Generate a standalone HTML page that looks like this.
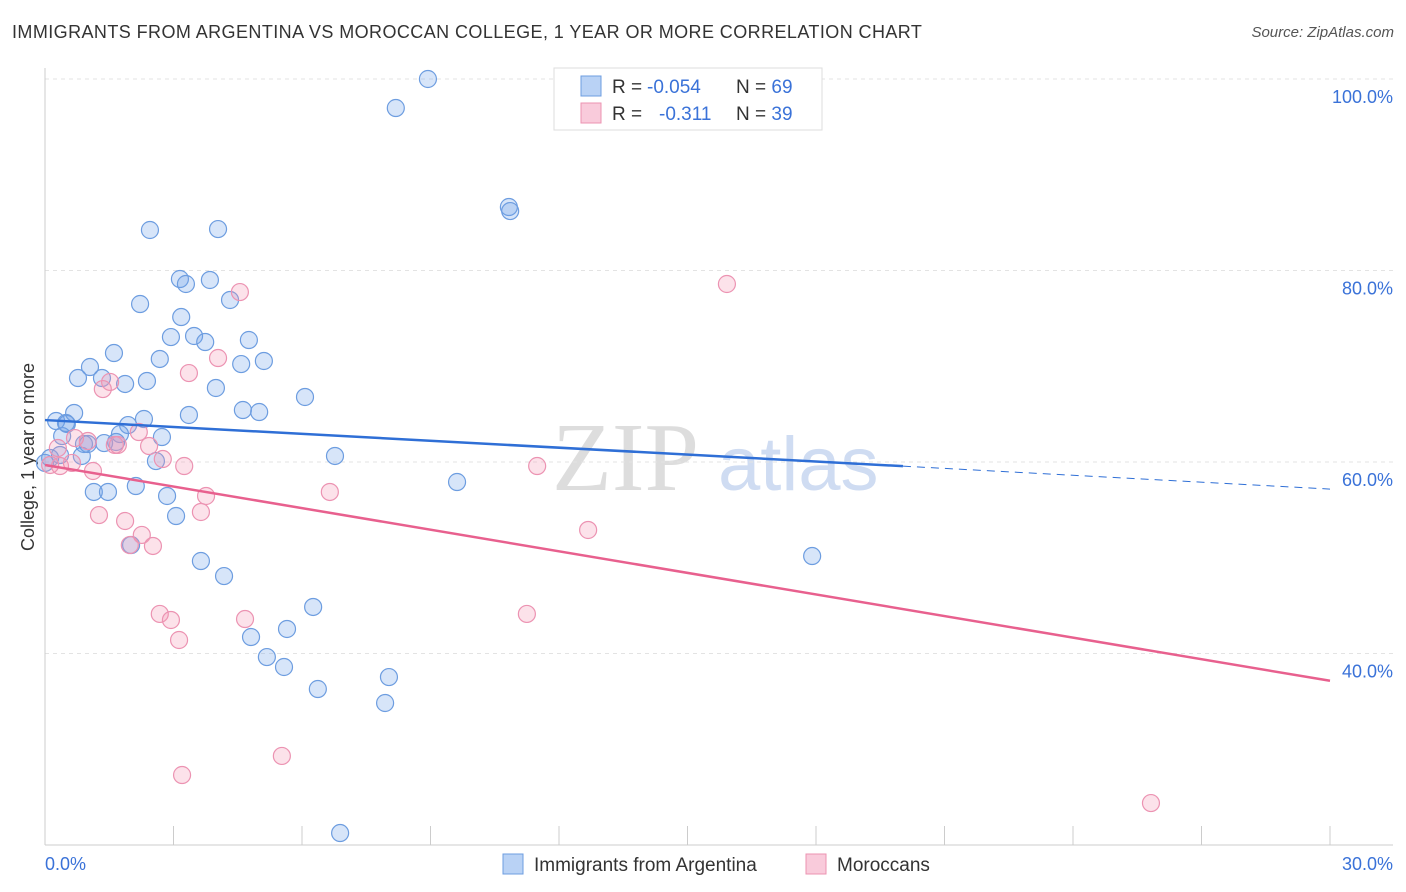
<!DOCTYPE html>
<html><head><meta charset="utf-8"><style>
body{margin:0;background:#fff;font-family:"Liberation Sans",sans-serif;}
#wrap{position:relative;width:1406px;height:892px;overflow:hidden}
.t{position:absolute;white-space:nowrap}
</style></head><body>
<div id="wrap">
<div class="t" style="left:12px;top:22px;font-size:18px;letter-spacing:0.42px;color:#333">IMMIGRANTS FROM ARGENTINA VS MOROCCAN COLLEGE, 1 YEAR OR MORE CORRELATION CHART</div>
<div class="t" style="right:12px;top:24px;font-size:15px;color:#555;font-style:italic">Source: ZipAtlas.com</div>
<svg id="svg" width="1406" height="892" style="position:absolute;left:0;top:0"></svg>
</div>
<script>
const xTicks=[0,30];
const yTicks=[40,60,80,100];
const blueX=[8.94,8.19,10.83,10.86,2.45,4.04,3.15,3.85,3.29,2.22,4.32,3.18,2.94,3.48,4.76,3.74,1.61,1.05,2.68,4.58,5.11,0.77,1.33,2.38,1.87,3.99,6.07,4.62,5.00,0.68,3.36,0.26,0.51,2.31,1.94,0.40,1.75,1.38,2.73,1.66,0.91,0.86,6.77,2.59,0,0.12,9.62,2.12,1.14,1.47,2.85,3.06,2.01,17.91,3.64,4.18,6.26,4.81,5.65,5.18,5.58,6.37,8.03,7.94,6.89,0.49,0.35,1.00];
const blueY=[100,96.97,86.63,86.21,84.23,84.33,79.11,79.01,78.59,76.5,76.92,75.14,73.05,73.16,72.74,72.53,71.38,69.92,70.76,70.23,70.55,68.77,68.77,68.46,68.15,67.73,66.79,65.43,65.22,65.12,64.91,64.28,63.97,64.49,63.86,62.71,62.92,61.98,62.61,62.09,61.88,60.63,60.63,60.10,59.9,60.42,57.91,57.49,56.87,56.87,56.45,54.36,51.33,50.18,49.66,48.09,44.86,41.72,42.56,39.63,38.59,36.29,37.54,34.83,21.25,64.07,60.73,61.88];
const pinkX=[15.92,4.55,4.04,3.36,1.52,1.35,2.19,1.63,1.00,0.70,2.43,0.30,2.75,0.63,0.35,1.12,0.12,3.25,11.49,6.65,3.76,1.26,1.87,3.64,12.68,2.26,2.52,1.98,2.68,2.94,4.67,11.25,3.13,5.53,3.20,25.82,1.70];
const pinkY=[78.59,77.75,70.86,69.29,68.36,67.62,63.13,61.78,62.19,62.5,61.67,61.46,60.31,59.9,59.58,59.06,59.69,59.58,59.58,56.87,56.45,54.46,53.84,54.78,52.9,52.38,51.23,51.33,44.13,43.5,43.6,44.13,41.41,29.3,27.31,24.38,61.78];
const blueTrend=[64.38,57.17], blueSolidEnd=20.03;
const pinkTrend=[59.69,37.15];
const X=v=>45+v/30*1285, Y=v=>79+(100-v)/20*191.5;
const svg=document.getElementById('svg');const NS='http://www.w3.org/2000/svg';
function mk(t,a,p){const e=document.createElementNS(NS,t);for(const k in a)e.setAttribute(k,a[k]);(p||svg).appendChild(e);return e;}
let w=mk('text',{x:552,y:490,'font-size':98,'font-family':'Liberation Serif',fill:'#ddd'});w.textContent='ZIP';


let w2=mk('text',{x:718,y:490,'font-size':76,'font-family':'Liberation Sans',fill:'#cfdcf2'});w2.textContent='atlas';


yTicks.forEach(v=>{let g=mk('line',{x1:45,x2:1393,y1:Y(v),y2:Y(v),stroke:'#e3e3e3','stroke-dasharray':'4,4'});


let t=mk('text',{x:1393,y:Y(v)+24,'text-anchor':'end','font-size':18,fill:'#3a72d8'});t.textContent=v.toFixed(1)+'%';

});
mk('line',{x1:45,x2:45,y1:68,y2:845,stroke:'#ccc'});
mk('line',{x1:45,x2:1393,y1:845,y2:845,stroke:'#ccc'});
for(let i=0;i<=10;i++){let xx=45+i*128.5;mk('line',{x1:xx,x2:xx,y1:826,y2:845,stroke:'#ccc'});}
xTicks.forEach((v,i)=>{let t=mk('text',{x:i?1393:45,y:870,'text-anchor':i?'end':'start','font-size':18,fill:'#3a72d8'});t.textContent=v.toFixed(1)+'%';

});
let yl=mk('text',{x:0,y:0,transform:'translate(34,457) rotate(-90)','text-anchor':'middle','font-size':18,fill:'#333'});yl.textContent='College, 1 year or more';


blueX.forEach((x,i)=>{let c=mk('circle',{cx:X(x),cy:Y(blueY[i]),r:8.5,fill:'rgba(110,160,235,0.28)',stroke:'#6d9de0','stroke-width':1.2});

});
pinkX.forEach((x,i)=>{let c=mk('circle',{cx:X(x),cy:Y(pinkY[i]),r:8.5,fill:'rgba(245,150,180,0.28)',stroke:'#ec93b2','stroke-width':1.2});

});
const bAt=x=>blueTrend[0]+(blueTrend[1]-blueTrend[0])*x/30;
let l1=mk('line',{x1:X(0),y1:Y(bAt(0)),x2:X(blueSolidEnd),y2:Y(bAt(blueSolidEnd)),stroke:'#2f6fd6','stroke-width':2.5});


let l2=mk('line',{x1:X(blueSolidEnd),y1:Y(bAt(blueSolidEnd)),x2:X(30),y2:Y(bAt(30)),stroke:'#2f6fd6','stroke-width':1,'stroke-dasharray':'8,6'});


let l3=mk('line',{x1:X(0),y1:Y(pinkTrend[0]),x2:X(30),y2:Y(pinkTrend[1]),stroke:'#e8608e','stroke-width':2.5});


let lb=mk('rect',{x:554,y:68,width:268,height:62,fill:'#fff',stroke:'#ddd'});


[['#b9d2f5','#6d9de0','-0.054','69',86],['#f9cbdb','#ec93b2','-0.311','39',113]].forEach(r=>{
let s=mk('rect',{x:581,y:r[4]-10,width:20,height:20,fill:r[0],stroke:r[1]});


let t=mk('text',{x:612,y:r[4]+7,'font-size':19,fill:'#333'});
t.innerHTML='R = <tspan fill="#3a72d8" x="'+(r[2]==='-0.054'?647:659)+'">'+r[2]+'</tspan><tspan x="736" fill="#333">N = </tspan><tspan fill="#3a72d8">'+r[3]+'</tspan>';

});
[['#b9d2f5','#6d9de0','Immigrants from Argentina',503],['#f9cbdb','#ec93b2','Moroccans',806]].forEach(r=>{
let s=mk('rect',{x:r[3],y:854,width:20,height:20,fill:r[0],stroke:r[1]});


let t=mk('text',{x:r[3]+31,y:871,'font-size':19,fill:'#333'});t.textContent=r[2];

});
</script>
</body></html>
